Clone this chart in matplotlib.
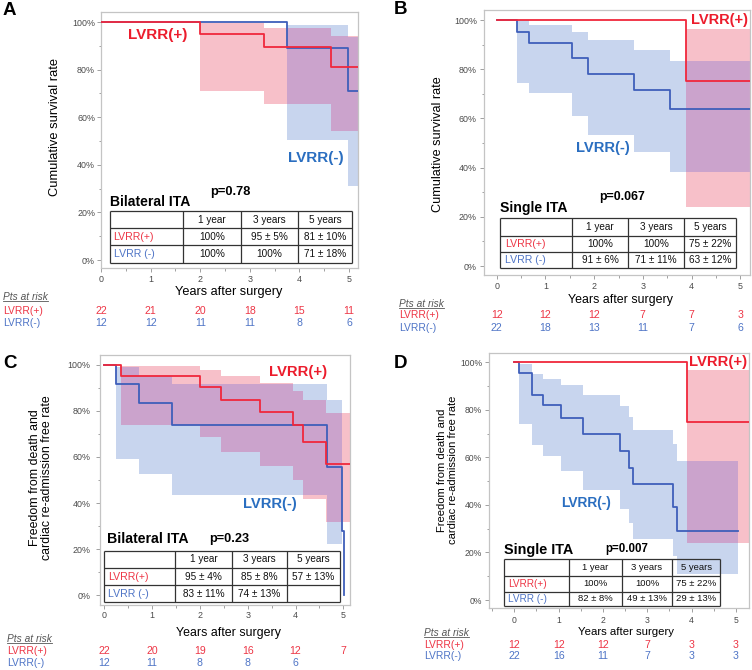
import numpy as np
import matplotlib
matplotlib.use("Agg")
import matplotlib.pyplot as plt
from matplotlib.transforms import blended_transform_factory
from matplotlib.ticker import MultipleLocator, FixedLocator

plt.rcParams['font.family'] = ['Liberation Sans', 'DejaVu Sans']

# ---------------- data ----------------
year_ticks = [0, 1, 2, 3, 4, 5]
pct_ticks = [0, 20, 40, 60, 80, 100]
pct_minor = [10, 30, 50, 70, 90]
table_cols = ["1 year", "3 years", "5 years"]
row_labels = ["LVRR(+)", "LVRR (-)"]
risk_labels = ["LVRR(+)", "LVRR(-)"]
risk_years = [0, 1, 2, 3, 4, 5]

# Panel A : survival, bilateral ITA
A_red_t = [0, 2.00, 3.28, 4.64]
A_red_s = [100, 95.0, 89.4, 81.2]
A_blue_t = [0, 3.74, 4.97]
A_blue_s = [100, 89.2, 71.0]
A_end = 5.25
A_red_ci_t = [2.00, 3.28, 4.64, 5.25]
A_red_ci_lo = [71.0, 65.7, 54.2]
A_red_ci_hi = [99.4, 97.3, 94.0]
A_blue_ci_t = [3.74, 4.97, 5.25]
A_blue_ci_lo = [50.4, 31.1]
A_blue_ci_hi = [98.7, 93.5]
A_tab_red = ["100%", "95 ± 5%", "81 ± 10%"]
A_tab_blue = ["100%", "100%", "71 ± 18%"]
A_risk_red = [22, 21, 20, 18, 15, 11]
A_risk_blue = [12, 12, 11, 11, 8, 6]

# Panel B : survival, single ITA
B_red_t = [0, 3.89]
B_red_s = [100, 75.2]
B_blue_t = [0, 0.42, 0.66, 1.55, 1.87, 2.81, 3.56]
B_blue_s = [100, 95.3, 90.8, 84.4, 78.2, 71.4, 63.7]
B_end = 5.25
B_red_ci_t = [3.89, 5.25]
B_red_ci_lo = [24.1]
B_red_ci_hi = [96.5]
B_blue_ci_t = [0.42, 0.66, 1.55, 1.87, 2.81, 3.56, 5.25]
B_blue_ci_lo = [74.3, 70.2, 61.0, 53.1, 46.5, 38.1]
B_blue_ci_hi = [100, 98.0, 95.0, 91.7, 87.9, 83.3]
B_tab_red = ["100%", "100%", "75 ± 22%"]
B_tab_blue = ["91 ± 6%", "71 ± 11%", "63 ± 12%"]
B_risk_red = [12, 12, 12, 7, 7, 3]
B_risk_blue = [22, 18, 13, 11, 7, 6]

# Panel C : freedom from death & readmission, bilateral ITA
C_red_t = [0, 0.34, 2.01, 2.45, 3.25, 3.95, 4.15, 4.64]
C_red_s = [100, 95.3, 90.3, 84.8, 79.3, 73.8, 66.4, 57.0]
C_red_end = 5.25
C_blue_t = [0, 0.25, 0.73, 1.42, 4.66, 4.97, 5.01]
C_blue_s = [100, 91.7, 83.2, 74.0, 55.7, 27.7, 0]
C_blue_end = 5.01
C_red_ci_t = [0.34, 2.01, 2.45, 3.25, 3.95, 4.15, 4.64, 5.25]
C_red_ci_lo = [74.0, 68.6, 62.2, 56.2, 49.8, 41.6, 31.7]
C_red_ci_hi = [99.3, 97.6, 95.0, 92.0, 88.6, 84.6, 79.0]
C_blue_ci_t = [0.25, 0.73, 1.42, 4.66, 4.97]
C_blue_ci_lo = [59.0, 52.8, 43.5, 22.4]
C_blue_ci_hi = [99.0, 95.1, 91.5, 84.6]
C_tab_red = ["95 ± 4%", "85 ± 8%", "57 ± 13%"]
C_tab_blue = ["83 ± 11%", "74 ± 13%", ""]
C_risk_red = [22, 20, 19, 16, 12, 7]
C_risk_blue = [12, 11, 8, 8, 6]

# Panel D : freedom from death & readmission, single ITA
D_red_t = [0, 3.89]
D_red_s = [100, 75.1]
D_red_end = 5.35
D_blue_t = [0, 0.11, 0.39, 0.41, 0.64, 1.06, 1.55, 2.39, 2.59, 2.68, 3.57, 3.66]
D_blue_s = [100, 95.4, 90.9, 86.4, 81.9, 76.4, 69.8, 62.7, 55.7, 48.7, 39.0, 29.2]
D_blue_end = 5.05
D_red_ci_t = [3.89, 5.35]
D_red_ci_lo = [24.1]
D_red_ci_hi = [96.8]
D_blue_ci_t = [0.11, 0.40, 0.64, 1.06, 1.55, 2.39, 2.59, 2.68, 3.57, 3.66, 5.05]
D_blue_ci_lo = [74.2, 65.1, 60.6, 54.3, 46.2, 38.5, 32.3, 25.5, 18.5, 10.8]
D_blue_ci_hi = [99.5, 95.3, 93.2, 90.4, 86.2, 81.5, 77.0, 71.5, 65.5, 58.7]
D_tab_red = ["100%", "100%", "75 ± 22%"]
D_tab_blue = ["82 ± 8%", "49 ± 13%", "29 ± 13%"]
D_risk_red = [12, 12, 12, 7, 3, 3]
D_risk_blue = [22, 16, 11, 7, 3, 3]

# ---------------- style ----------------
RED = '#F0283C'
BLUE = '#3F5FBA'
RED_TXT = '#EC1C2C'
BLUE_TXT = '#2A6EC0'
RED_LIGHT = '#ED3545'
BLUE_LIGHT = '#4E74C6'
PINK = '#F7C0C9'
LBLUE = '#C8D5EE'
PURPLE = '#CBA3CC'

W, H = 752, 670
fig = plt.figure(figsize=(W / 100, H / 100), dpi=100)
ov = fig.add_axes([0, 0, 1, 1], zorder=10)
ov.set_xlim(0, W)
ov.set_ylim(H, 0)
ov.axis('off')
ov.patch.set_alpha(0)


def step_fill(ax, edges, lo, hi, color, z):
    lo = np.asarray(lo, float)
    hi = np.asarray(hi, float)
    ax.fill_between(np.asarray(edges, float), np.r_[lo, lo[-1]], np.r_[hi, hi[-1]],
                    step='post', color=color, lw=0, zorder=z)


def band_on_grid(edges, lo, hi, mids):
    e = np.asarray(edges, float)
    idx = np.searchsorted(e, mids, side='right') - 1
    ok = (idx >= 0) & (idx < len(lo))
    ic = np.clip(idx, 0, len(lo) - 1)
    l = np.where(ok, np.asarray(lo, float)[ic], np.nan)
    h = np.where(ok, np.asarray(hi, float)[ic], np.nan)
    return l, h


def overlap_fill(ax, b1, b2, color, z):
    grid = np.unique(np.r_[b1[0], b2[0]])
    mids = (grid[:-1] + grid[1:]) / 2
    l1, h1 = band_on_grid(*b1, mids)
    l2, h2 = band_on_grid(*b2, mids)
    lo = np.maximum(l1, l2)
    hi = np.minimum(h1, h2)
    ok = np.isfinite(lo) & np.isfinite(hi) & (hi > lo)
    lo = np.where(ok, lo, 0.0)
    hi = np.where(ok, hi, 0.0)
    ax.fill_between(grid, np.r_[lo, lo[-1]], np.r_[hi, hi[-1]], step='post',
                    color=color, lw=0, zorder=z)


def km(ax, t, s, end, color, z):
    ax.step(np.r_[t, end], np.r_[s, s[-1]], where='post', color=color, lw=1.3, zorder=z)


def panel(box, xlim, ylim, red, blue, red_ci, blue_ci, ypad, xpad, fs_tick=6.4):
    l, t, r, b = box
    ax = fig.add_axes([l / W, 1 - b / H, (r - l) / W, (b - t) / H])
    ax.set_xlim(*xlim)
    ax.set_ylim(*ylim)
    for sp in ax.spines.values():
        sp.set_color('#C4C4C4')
        sp.set_linewidth(0.9)
    step_fill(ax, *red_ci, PINK, 1)
    step_fill(ax, *blue_ci, LBLUE, 1.5)
    overlap_fill(ax, red_ci, blue_ci, PURPLE, 2)
    km(ax, *blue, BLUE, 3)
    km(ax, *red, RED, 4)
    ax.xaxis.set_major_locator(FixedLocator(year_ticks))
    ax.xaxis.set_minor_locator(MultipleLocator(0.5))
    ax.yaxis.set_major_locator(FixedLocator(pct_ticks))
    ax.yaxis.set_minor_locator(FixedLocator(pct_minor))
    ax.set_yticklabels([f"{v}%" for v in pct_ticks])
    ax.set_xticklabels([str(v) for v in year_ticks])
    ax.tick_params(which='major', length=3, width=0.7, color='#A0A0A0',
                   labelsize=fs_tick, labelcolor='#4A4A4A')
    ax.tick_params(which='minor', length=1.8, width=0.7, color='#A0A0A0')
    ax.tick_params(axis='y', which='major', pad=ypad)
    ax.tick_params(axis='x', which='major', pad=xpad)
    return ax


def table(xs, ys, red_vals, blue_vals, fs=7.0, lab_pad=4):
    for y in ys:
        ov.plot([xs[0], xs[-1]], [y, y], color='#333333', lw=0.9, solid_capstyle='butt')
    for x in xs:
        ov.plot([x, x], [ys[0], ys[-1]], color='#333333', lw=0.9, solid_capstyle='butt')
    for j, c in enumerate(table_cols):
        ov.text((xs[j + 1] + xs[j + 2]) / 2, (ys[0] + ys[1]) / 2, c, ha='center', va='center',
                fontsize=fs, color='#111111')
    for i, (lab, vals, col) in enumerate([(row_labels[0], red_vals, RED_LIGHT),
                                          (row_labels[1], blue_vals, BLUE_LIGHT)]):
        yc = (ys[i + 1] + ys[i + 2]) / 2
        ov.text(xs[0] + lab_pad, yc, lab, ha='left', va='center', fontsize=fs + 0.4, color=col)
        for j, v in enumerate(vals):
            ov.text((xs[j + 1] + xs[j + 2]) / 2, yc, v, ha='center', va='center',
                    fontsize=fs, color='#111111')


def risk(ax, x_lab, y_head, y1, y2, red_n, blue_n, fs=7.6):
    tr = blended_transform_factory(ax.transData, ov.transData)
    h = ov.text(x_lab, y_head, "Pts at risk", ha='left', va='center', fontsize=7.3,
                style='italic', color='#555555')
    ov.text(x_lab, y1, risk_labels[0], ha='left', va='center', fontsize=7.4, color=RED_LIGHT)
    ov.text(x_lab, y2, risk_labels[1], ha='left', va='center', fontsize=7.4, color=BLUE_LIGHT)
    for yr, n in zip(risk_years, red_n):
        ov.text(yr, y1, str(n), transform=tr, ha='center', va='center', fontsize=fs, color=RED_LIGHT)
    for yr, n in zip(risk_years, blue_n):
        ov.text(yr, y2, str(n), transform=tr, ha='center', va='center', fontsize=fs, color=BLUE_LIGHT)
    return h


# ---------- Panel A ----------
axA = panel((101, 12.3, 358, 268), (0, 5.18), (-3.36, 104.08),
            (A_red_t, A_red_s, A_end), (A_blue_t, A_blue_s, A_end),
            (A_red_ci_t, A_red_ci_lo, A_red_ci_hi), (A_blue_ci_t, A_blue_ci_lo, A_blue_ci_hi),
            ypad=1.3, xpad=2.4)
# ---------- Panel B ----------
axB = panel((484.3, 10, 750, 275.3), (-0.2545, 5.199), (-3.78, 104.07),
            (B_red_t, B_red_s, B_end), (B_blue_t, B_blue_s, B_end),
            (B_red_ci_t, B_red_ci_lo, B_red_ci_hi), (B_blue_ci_t, B_blue_ci_lo, B_blue_ci_hi),
            ypad=2.3, xpad=1.6)
# ---------- Panel C ----------
axC = panel((100, 355, 350, 605), (-0.09, 5.14), (-4.2, 104.2),
            (C_red_t, C_red_s, C_red_end), (C_blue_t, C_blue_s, C_blue_end),
            (C_red_ci_t, C_red_ci_lo, C_red_ci_hi), (C_blue_ci_t, C_blue_ci_lo, C_blue_ci_hi),
            ypad=3.8, xpad=1.1)
# ---------- Panel D ----------
axD = panel((489.3, 352.7, 749.3, 608.3), (-0.564, 5.30), (-3.49, 104.08),
            (D_red_t, D_red_s, D_red_end), (D_blue_t, D_blue_s, D_blue_end),
            (D_red_ci_t, D_red_ci_lo, D_red_ci_hi), (D_blue_ci_t, D_blue_ci_lo, D_blue_ci_hi),
            ypad=2.1, xpad=2.2, fs_tick=6.2)

# panel letters
for x, y, s in [(3, 10.7, 'A'), (394, 9.7, 'B'), (3, 363.7, 'C'), (394, 363.3, 'D')]:
    ov.text(x, y, s, ha='left', va='center', fontsize=13.5, fontweight='bold', color='black')

# axis labels
ov.text(55, 127.5, "Cumulative survival rate", rotation=90, ha='center', va='center', fontsize=9.3)
ov.text(229, 292.3, "Years after surgery", ha='center', va='center', fontsize=9.2)
ov.text(437.7, 144, "Cumulative survival rate", rotation=90, ha='center', va='center', fontsize=9.1)
ov.text(620, 300, "Years after surgery", ha='center', va='center', fontsize=8.9)
ov.text(41, 478, "Freedom from death and\ncardiac re-admission free rate", rotation=90,
        ha='center', va='center', fontsize=8.9, linespacing=1.1)
ov.text(228, 633, "Years after surgery", ha='center', va='center', fontsize=8.9)
ov.text(447.5, 470, "Freedom from death and\ncardiac re-admission free rate", rotation=90,
        ha='center', va='center', fontsize=8.0, linespacing=1.2)
ov.text(626, 631.7, "Years after surgery", ha='center', va='center', fontsize=8.2)

# group labels
lab_kw = dict(ha='left', va='center', fontweight='bold')
ov.text(128, 35, "LVRR(+)", color=RED_TXT, fontsize=11, **lab_kw)
ov.text(288, 158.3, "LVRR(-)", color=BLUE_TXT, fontsize=11, **lab_kw)
ov.text(691, 20, "LVRR(+)", color=RED_TXT, fontsize=10.5, **lab_kw)
ov.text(576, 148.3, "LVRR(-)", color=BLUE_TXT, fontsize=10.6, **lab_kw)
ov.text(269.3, 371.7, "LVRR(+)", color=RED_TXT, fontsize=10.7, **lab_kw)
ov.text(242.7, 504, "LVRR(-)", color=BLUE_TXT, fontsize=10.6, **lab_kw)
ov.text(689.3, 362.3, "LVRR(+)", color=RED_TXT, fontsize=10.7, **lab_kw)
ov.text(561, 502.7, "LVRR(-)", color=BLUE_TXT, fontsize=9.9, **lab_kw)

# titles / p values
ov.text(110, 202.3, "Bilateral ITA", fontsize=10.1, **lab_kw)
ov.text(210, 192.3, "p=0.78", fontsize=9.3, **lab_kw)
ov.text(500, 208.3, "Single ITA", fontsize=10.1, **lab_kw)
ov.text(599.3, 196.7, "p=0.067", fontsize=8.9, **lab_kw)
ov.text(106.7, 539.3, "Bilateral ITA", fontsize=10.2, **lab_kw)
ov.text(209.3, 539.3, "p=0.23", fontsize=9.2, **lab_kw)
ov.text(504.3, 550, "Single ITA", fontsize=10.4, **lab_kw)
ov.text(605.3, 549.3, "p=0.007", fontsize=8.3, **lab_kw)

# tables
table([110, 183, 241, 298, 352], [211, 228.3, 245, 262.7], A_tab_red, A_tab_blue, fs=7.2, lab_pad=3.5)
table([500, 571.7, 628.3, 684.3, 736], [218.3, 236, 252.3, 268.3], B_tab_red, B_tab_blue, fs=7.2, lab_pad=5)
table([104.3, 175, 231.7, 287.3, 340], [550.7, 568.3, 585, 602.3], C_tab_red, C_tab_blue, fs=7.2, lab_pad=4)
table([504.3, 569.3, 621.7, 672.3, 720], [559.3, 575.7, 591.7, 605.7], D_tab_red, D_tab_blue, fs=6.8, lab_pad=3.5)

# numbers at risk
heads = [
    risk(axA, 3, 297, 310.7, 323.3, A_risk_red, A_risk_blue),
    risk(axB, 399.3, 304, 315, 328.3, B_risk_red, B_risk_blue),
    risk(axC, 6.7, 639.3, 650.7, 662.7, C_risk_red, C_risk_blue),
    risk(axD, 424.3, 633, 645, 656, D_risk_red, D_risk_blue),
]
fig.canvas.draw()
rend = fig.canvas.get_renderer()
inv = ov.transData.inverted()
for h in heads:
    bb = h.get_window_extent(renderer=rend)
    (x0, y0), (x1, y1) = inv.transform([[bb.x0, bb.y0], [bb.x1, bb.y1]])
    ov.plot([x0, x1], [y0 - 1.0, y0 - 1.0], color='#555555', lw=0.6)

fig.savefig("out.png", dpi=100)
